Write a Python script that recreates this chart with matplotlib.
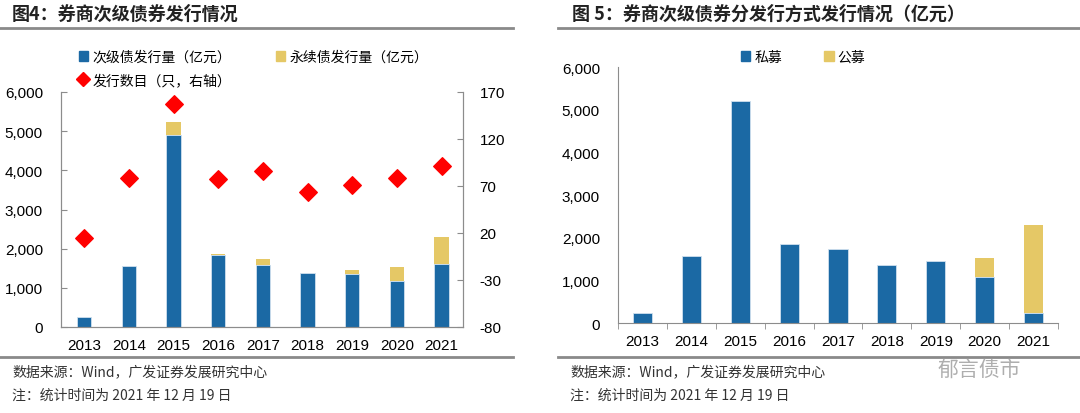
import matplotlib.pyplot as plt
from matplotlib.lines import Line2D
from matplotlib.patches import Patch

plt.rcParams['font.family'] = ['Liberation Sans', 'Noto Sans CJK SC', 'DejaVu Sans']
plt.rcParams['axes.unicode_minus'] = False

# 数据
annees = ['2013', '2014', '2015', '2016', '2017', '2018', '2019', '2020', '2021']
# 图4
ciji = [250, 1570, 4910, 1830, 1575, 1380, 1362, 1166, 1617]       # 次级债发行量（亿元）
yongxu = [0, 0, 315, 40, 170, 0, 100, 366, 680]                    # 永续债发行量（亿元）
shumu = [15, 78, 157, 77, 86, 64, 71, 78, 91]                       # 发行数目（只）
# 图5
simu = [234, 1562, 5211, 1852, 1734, 1367, 1453, 1086, 242]         # 私募
gongmu = [0, 0, 0, 0, 0, 0, 0, 437, 2047]                           # 公募

BLEU = '#1b69a4'
OR = '#e5c866'
ROUGE = '#ff0000'
GRIS = '#8c8c8c'
CJK = ['Noto Sans CJK SC', 'DejaVu Sans']

W, H = 1080, 414
fig = plt.figure(figsize=(W / 100, H / 100), dpi=100)


def rect(x0, y0, x1, y1):
    return [x0 / W, 1 - y1 / H, (x1 - x0) / W, (y1 - y0) / H]


def ligne(x0, x1, y, lw=2):
    fig.add_artist(Line2D([x0 / W, x1 / W], [1 - y / H, 1 - y / H],
                          color='#8a8a8a', lw=lw))


x = range(len(annees))

# ---------- 图4 ----------
ax1 = fig.add_axes(rect(61, 93, 463, 328))
ax1.bar(x, ciji, width=0.32, color=BLEU, edgecolor='#cfe0ee', linewidth=0.6, zorder=2)
ax1.bar(x, yongxu, bottom=ciji, width=0.32, color=OR, linewidth=0, zorder=2)
ax1.set_ylim(0, 6000)
ax1.set_xlim(-0.52, 8.48)
ax1.set_yticks(range(0, 6001, 1000))
ax1.set_yticklabels([f'{v:,}' for v in range(0, 6001, 1000)])
ax1.set_xticks(list(x))
ax1.set_xticklabels(annees)

ax2 = ax1.twinx()
ax2.scatter(x, shumu, marker='D', s=80, color=ROUGE, zorder=3)
ax2.set_ylim(-80, 170)
ax2.set_yticks(range(-80, 171, 50))

for a in (ax1, ax2):
    for s in a.spines.values():
        s.set_color(GRIS)
    a.spines['top'].set_visible(False)
ax1.tick_params(axis='y', direction='in', length=4, color=GRIS, labelsize=11, pad=13)
ax1.tick_params(axis='x', length=0, labelsize=11, pad=8)
ax2.tick_params(axis='y', direction='in', length=4, color=GRIS, labelsize=11, pad=12)

h1 = [Patch(color=BLEU), Line2D([], [], marker='D', color=ROUGE, ls='', markersize=7),
      Patch(color=OR)]
l1 = ['次级债发行量（亿元）', '发行数目（只，右轴）', '永续债发行量（亿元）']
fig.legend(h1, l1, loc='upper left', bbox_to_anchor=(66 / W, 1 - 38 / H), ncol=2,
           frameon=False, prop={'family': CJK, 'size': 10}, handlelength=0.7,
           handleheight=0.7, handletextpad=0.3, columnspacing=3.2, labelspacing=0.7)

fig.text(12 / W, 1 - 14 / H, '图4：券商次级债券发行情况', fontsize=13, fontweight='bold',
         family=CJK, va='center', color='#222222')
ligne(0, 513, 29)
ligne(0, 513, 358)
fig.text(12 / W, 1 - 372 / H, '数据来源：Wind，广发证券发展研究中心', fontsize=10,
         family=CJK, va='center', color='#333333')
fig.text(12 / W, 1 - 396 / H, '注：统计时间为 2021 年 12 月 19 日', fontsize=10,
         family=CJK, va='center', color='#333333')

# ---------- 图5 ----------
ax3 = fig.add_axes(rect(618, 68, 1058, 324))
ax3.bar(x, simu, width=0.39, color=BLEU, edgecolor='#cfe0ee', linewidth=0.6, zorder=2)
ax3.bar(x, gongmu, bottom=simu, width=0.39, color=OR, linewidth=0, zorder=2)
ax3.set_ylim(0, 6000)
ax3.set_xlim(-0.5, 8.48)
ax3.set_yticks(range(0, 6001, 1000))
ax3.set_yticklabels([f'{v:,}' for v in range(0, 6001, 1000)])
ax3.set_xticks(list(x))
ax3.set_xticklabels(annees)
ax3.set_xticks([i + 0.5 for i in range(-1, 9)], minor=True)
for s in ('top', 'right'):
    ax3.spines[s].set_visible(False)
for s in ('left', 'bottom'):
    ax3.spines[s].set_color(GRIS)
ax3.tick_params(axis='y', length=0, labelsize=11, pad=13)
ax3.tick_params(axis='x', which='major', length=0, labelsize=11, pad=8)
ax3.tick_params(axis='x', which='minor', direction='out', length=4, color=GRIS)

h2 = [Patch(color=BLEU), Patch(color=OR)]
fig.legend(h2, ['私募', '公募'], loc='upper left', bbox_to_anchor=(728 / W, 1 - 38 / H),
           ncol=2, frameon=False, prop={'family': CJK, 'size': 10}, handlelength=0.7,
           handleheight=0.7, handletextpad=0.3, columnspacing=3.0)

fig.text(572 / W, 1 - 14 / H, '图 5：券商次级债券分发行方式发行情况（亿元）', fontsize=13,
         fontweight='bold', family=CJK, va='center', color='#222222')
ligne(558, 1080, 29)
ligne(558, 1080, 358)
fig.text(570 / W, 1 - 372 / H, '数据来源：Wind，广发证券发展研究中心', fontsize=10,
         family=CJK, va='center', color='#333333')
fig.text(570 / W, 1 - 396 / H, '注：统计时间为 2021 年 12 月 19 日', fontsize=10,
         family=CJK, va='center', color='#333333')
fig.text(938 / W, 1 - 370 / H, '郁言债市', fontsize=15, family=CJK, va='center',
         color='#9a9a9a', alpha=0.8)

fig.savefig('out.png', dpi=100)
